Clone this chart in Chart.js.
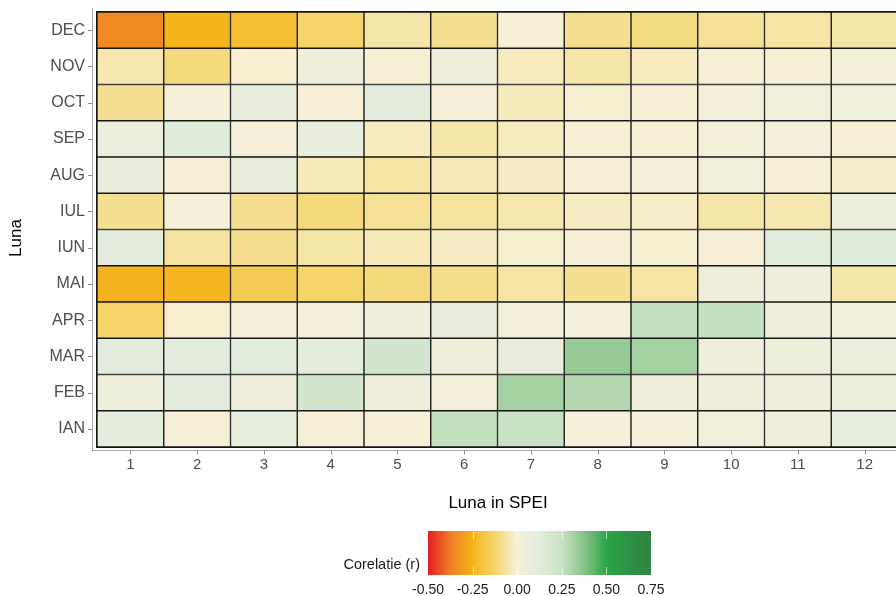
<!DOCTYPE html>
<html>
<head>
<meta charset="utf-8">
<script src="https://cdn.jsdelivr.net/npm/chart.js@4.4.1/dist/chart.umd.min.js"></script>
<style>
  html, body { margin: 0; padding: 0; overflow: hidden; background: #fff; }
  #wrap { position: absolute; left: 0; top: 0; }
</style>
</head>
<body>
<div id="wrap"><canvas id="heat" width="900" height="596"></canvas></div>
<script>
// rows of the heatmap (bottom to top) and SPEI lag columns
const months = ['IAN', 'FEB', 'MAR', 'APR', 'MAI', 'IUN', 'IUL', 'AUG', 'SEP', 'OCT', 'NOV', 'DEC']
const lags = ['1', '2', '3', '4', '5', '6', '7', '8', '9', '10', '11', '12']

// correlation r, one array per month, lag 1..12
const corIAN = [0.11, -0.003, 0.10, -0.003, -0.003, 0.26, 0.25, 0.00, 0.02, 0.03, 0.05, 0.10]
const corFEB = [0.06, 0.12, 0.05, 0.20, 0.05, 0.02, 0.32, 0.29, 0.05, 0.05, 0.05, 0.06]
const corMAR = [0.12, 0.12, 0.13, 0.11, 0.20, 0.05, 0.09, 0.345, 0.32, 0.05, 0.06, 0.07]
const corAPR = [-0.13, -0.01, 0.00, 0.02, 0.05, 0.08, 0.02, 0.02, 0.26, 0.26, 0.05, 0.035]
const corMAI = [-0.245, -0.24, -0.16, -0.13, -0.105, -0.09, -0.06, -0.08, -0.06, 0.05, 0.05, -0.055]
const corIUN = [0.12, -0.065, -0.085, -0.055, -0.038, -0.025, -0.008, -0.005, -0.008, -0.003, 0.13, 0.15]
const corIUL = [-0.082, 0.00, -0.085, -0.105, -0.075, -0.068, -0.05, -0.025, -0.02, -0.055, -0.045, 0.07]
const corAUG = [0.08, -0.003, 0.08, -0.035, -0.06, -0.038, -0.025, -0.006, 0.00, 0.03, -0.005, -0.018]
const corSEP = [0.07, 0.135, 0.00, 0.08, -0.03, -0.055, -0.028, -0.005, -0.005, 0.02, 0.02, -0.005]
const corOCT = [-0.08, 0.00, 0.08, -0.005, 0.11, 0.00, -0.035, -0.008, -0.005, 0.02, 0.03, 0.04]
const corNOV = [-0.045, -0.105, -0.01, 0.05, -0.005, 0.05, -0.03, -0.055, -0.03, -0.005, -0.005, 0.015]
const corDEC = [-0.345, -0.25, -0.215, -0.13, -0.055, -0.08, -0.005, -0.085, -0.10, -0.075, -0.06, -0.055]

const rows = [corIAN, corFEB, corMAR, corAPR, corMAI, corIUN, corIUL, corAUG, corSEP, corOCT, corNOV, corDEC]
const legendTicks = [-0.5, -0.25, 0, 0.25, 0.5, 0.75]

// colour scale
const palette = [
  [-0.5, '#e41e26'], [-0.375, '#ef7d27'], [-0.25, '#f5b31c'], [-0.125, '#f5d66c'],
  [0, '#f6f0d8'], [0.125, '#e2ecdc'], [0.25, '#c8e2c4'], [0.375, '#86c486'],
  [0.5, '#2ca54a'], [0.625, '#2d9244'], [0.75, '#2f8440']
]

function hexRgb(h) {
  return [1, 3, 5].map(i => parseInt(h.slice(i, i + 2), 16))
}

function colorFor(v) {
  if (v <= palette[0][0]) return palette[0][1]
  for (let i = 1; i < palette.length; i++) {
    if (v <= palette[i][0]) {
      const [v0, c0] = palette[i - 1]
      const [v1, c1] = palette[i]
      const t = (v - v0) / (v1 - v0)
      const a = hexRgb(c0), b = hexRgb(c1)
      const c = a.map((x, k) => Math.round(x + (b[k] - x) * t))
      return `rgb(${c[0]},${c[1]},${c[2]})`
    }
  }
  return palette[palette.length - 1][1]
}

const datasets = rows.map((r, i) => ({
  label: months[i],
  data: r.map(() => 1),
  backgroundColor: r.map(colorFor),
  borderColor: '#151515',
  borderWidth: 1,
  borderSkipped: false,
  barPercentage: 1,
  categoryPercentage: 1
}))

const decor = {
  id: 'decor',
  afterDraw(chart) {
    const { ctx, chartArea: a, scales: { x, y } } = chart
    ctx.save()
    // outline of the tiles
    ctx.strokeStyle = '#151515'
    ctx.lineWidth = 1
    ctx.strokeRect(a.left - 0.5, a.top - 0.5, a.right - a.left + 1, a.bottom - a.top + 1)

    // axis lines and tick marks
    ctx.strokeStyle = '#aaaaaa'
    ctx.beginPath()
    ctx.moveTo(a.left - 4.5, a.top - 4)
    ctx.lineTo(a.left - 4.5, a.bottom + 4)
    ctx.moveTo(a.left - 5, a.bottom + 3.5)
    ctx.lineTo(chart.width, a.bottom + 3.5)
    ctx.stroke()
    ctx.strokeStyle = '#8a8a8a'
    ctx.beginPath()
    y.ticks.forEach(t => {
      const py = Math.round(y.getPixelForValue(t.value)) + 0.5
      ctx.moveTo(a.left - 9, py)
      ctx.lineTo(a.left - 4.5, py)
    })
    lags.forEach((l, i) => {
      const px = Math.round(x.getPixelForValue(i)) + 0.5
      ctx.moveTo(px, a.bottom + 3.5)
      ctx.lineTo(px, a.bottom + 7.5)
    })
    ctx.stroke()

    // axis titles
    ctx.fillStyle = '#000'
    ctx.font = '17px "Liberation Sans", Arial, sans-serif'
    ctx.textAlign = 'center'
    ctx.textBaseline = 'middle'
    ctx.fillText('Luna in SPEI', 498, 503)
    ctx.save()
    ctx.translate(16, 238)
    ctx.rotate(-Math.PI / 2)
    ctx.fillText('Luna', 0, 0)
    ctx.restore()

    // colour bar legend
    const x0 = 428, x1 = 651, y0 = 531, y1 = 575
    const lo = legendTicks[0], hi = legendTicks[legendTicks.length - 1]
    const grad = ctx.createLinearGradient(x0, 0, x1, 0)
    palette.forEach(([v, c]) => grad.addColorStop((v - lo) / (hi - lo), c))
    ctx.fillStyle = grad
    ctx.fillRect(x0, y0, x1 - x0, y1 - y0)
    ctx.strokeStyle = 'rgba(255,255,255,0.6)'
    ctx.beginPath()
    legendTicks.slice(1, -1).forEach(v => {
      const px = Math.round(x0 + (v - lo) / (hi - lo) * (x1 - x0)) + 0.5
      ctx.moveTo(px, y0); ctx.lineTo(px, y0 + 8)
      ctx.moveTo(px, y1 - 8); ctx.lineTo(px, y1)
    })
    ctx.stroke()

    ctx.fillStyle = '#1a1a1a'
    ctx.font = '14.5px "Liberation Sans", Arial, sans-serif'
    ctx.textAlign = 'right'
    ctx.fillText('Corelatie (r)', 420, 565)
    ctx.font = '14px "Liberation Sans", Arial, sans-serif'
    ctx.textAlign = 'center'
    legendTicks.forEach(v => {
      const px = x0 + (v - lo) / (hi - lo) * (x1 - x0)
      ctx.fillText(v.toFixed(2), px, 590)
    })
    ctx.restore()
  }
}

new Chart(document.getElementById('heat'), {
  type: 'bar',
  data: { labels: lags, datasets: datasets },
  options: {
    responsive: false,
    animation: false,
    devicePixelRatio: 1,
    layout: { padding: { left: 0, top: 12, right: 2, bottom: 0 } },
    plugins: { legend: { display: false }, tooltip: { enabled: false } },
    scales: {
      x: {
        stacked: true,
        grid: { display: false, drawTicks: false },
        border: { display: false },
        ticks: {
          color: '#4d4d4d',
          padding: 9,
          font: { family: '"Liberation Sans", Arial, sans-serif', size: 15 }
        },
        afterFit(scale) {
          scale.height = 149
          scale.paddingLeft = 0
          scale.paddingRight = 0
        }
      },
      y: {
        stacked: true,
        min: 0,
        max: 12,
        grid: { display: false, drawTicks: false },
        border: { display: false },
        afterBuildTicks(scale) {
          scale.ticks = months.map((m, i) => ({ value: i + 0.5 }))
        },
        ticks: {
          autoSkip: false,
          color: '#4d4d4d',
          padding: 12,
          font: { family: '"Liberation Sans", Arial, sans-serif', size: 16 },
          callback: (v, i) => months[i]
        },
        afterFit(scale) {
          scale.width = 97
          scale.paddingTop = 0
          scale.paddingBottom = 0
        }
      }
    }
  },
  plugins: [decor]
})
</script>
</body>
</html>
